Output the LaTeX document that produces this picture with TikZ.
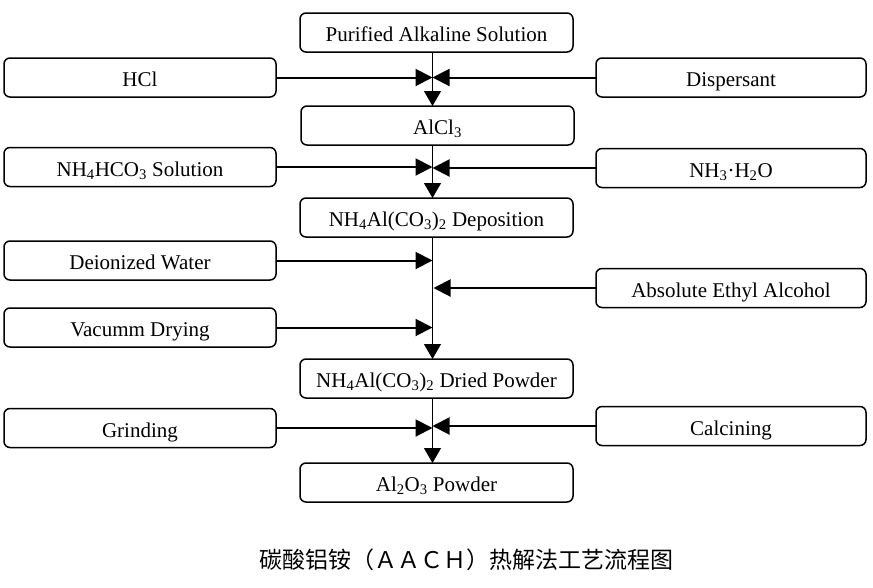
\documentclass[tikz,border=0pt]{standalone}
\usepackage{fontspec}
\setmainfont{Liberation Serif}
\newfontfamily\cjk{Noto Sans CJK SC}
\usetikzlibrary{arrows.meta}
\newcommand\sbs[1]{\textsubscript{#1}}
\begin{document}
\begin{tikzpicture}[x=1pt,y=-1pt,
  box/.style={draw,line width=1.5pt,rounded corners=6pt,minimum height=39pt,outer sep=0pt,inner sep=0pt,text height=18pt,text depth=0pt,font=\fontsize{21}{24}\selectfont},
  mainbox/.style={box,minimum width=273pt},
  lbox/.style={box,minimum width=272pt},
  rbox/.style={box,minimum width=270pt},
  harr/.style={line width=2pt,-{Triangle[length=17pt,width=17pt]}},
  varr/.style={line width=1.3pt,-{Triangle[length=15pt,width=17pt]}},
  vline/.style={line width=1.3pt}]
\useasboundingbox (0,0) rectangle (873,587);
\coordinate (v) at (432.5,0);
% main column
\node[mainbox] (pas) at (436.5,32.5) {Purified Alkaline Solution};
\node[mainbox] (alcl) at (437.5,125.5) {AlCl\sbs{3}};
\node[mainbox] (dep) at (436.5,217.5) {NH\sbs{4}Al(CO\sbs{3})\sbs{2} Deposition};
\node[mainbox] (dry) at (436.5,378.5) {NH\sbs{4}Al(CO\sbs{3})\sbs{2} Dried Powder};
\node[mainbox] (al2o3) at (436.5,482.5) {Al\sbs{2}O\sbs{3} Powder};
% left column
\node[lbox] (hcl) at (140,77.5) {HCl};
\node[lbox] (nh4hco3) at (140,167) {NH\sbs{4}HCO\sbs{3} Solution};
\node[lbox] (dw) at (140,260.5) {Deionized Water};
\node[lbox] (vd) at (140,327.5) {Vacumm Drying};
\node[lbox] (gr) at (140,428) {Grinding};
% right column
\node[rbox] (disp) at (731,77.5) {Dispersant};
\node[rbox] (nh3) at (731,168) {NH\sbs{3}·H\sbs{2}O};
\node[rbox] (eth) at (731,288) {Absolute Ethyl Alcohol};
\node[rbox] (calc) at (731,426) {Calcining};
% junctions
\coordinate (j1) at (432.5,77.5);
\coordinate (j2) at (432.5,167.5);
\coordinate (j3a) at (432.5,260.5);
\coordinate (j3b) at (433.5,288);
\coordinate (j3c) at (432.5,327.5);
\coordinate (j4) at (432.5,428);
% vertical flow
\draw[varr] (pas.south -| v) -- (alcl.north -| v);
\draw[varr] (alcl.south -| v) -- (dep.north -| v);
\draw[varr] (dep.south -| v) -- (dry.north -| v);
\draw[varr] (dry.south -| v) -- (al2o3.north -| v);
% horizontal inputs
\draw[harr] (hcl.east) -- (j1);
\draw[harr] (disp.west) -- (j1);
\draw[harr] (nh4hco3.east) -- (nh4hco3.east -| j2);
\draw[harr] (nh3.west) -- (nh3.west -| j2);
\draw[harr] (dw.east) -- (j3a);
\draw[harr] (eth.west) -- (j3b);
\draw[harr] (vd.east) -- (j3c);
\draw[harr] (gr.east) -- (gr.east -| j4);
\draw[harr] (calc.west) -- (calc.west -| j4);
% caption
\node[font=\cjk\fontsize{23}{26}\selectfont,inner sep=0pt] (cap) at (466,560) {碳酸铝铵（ＡＡＣＨ）热解法工艺流程图};
\end{tikzpicture}
\end{document}
